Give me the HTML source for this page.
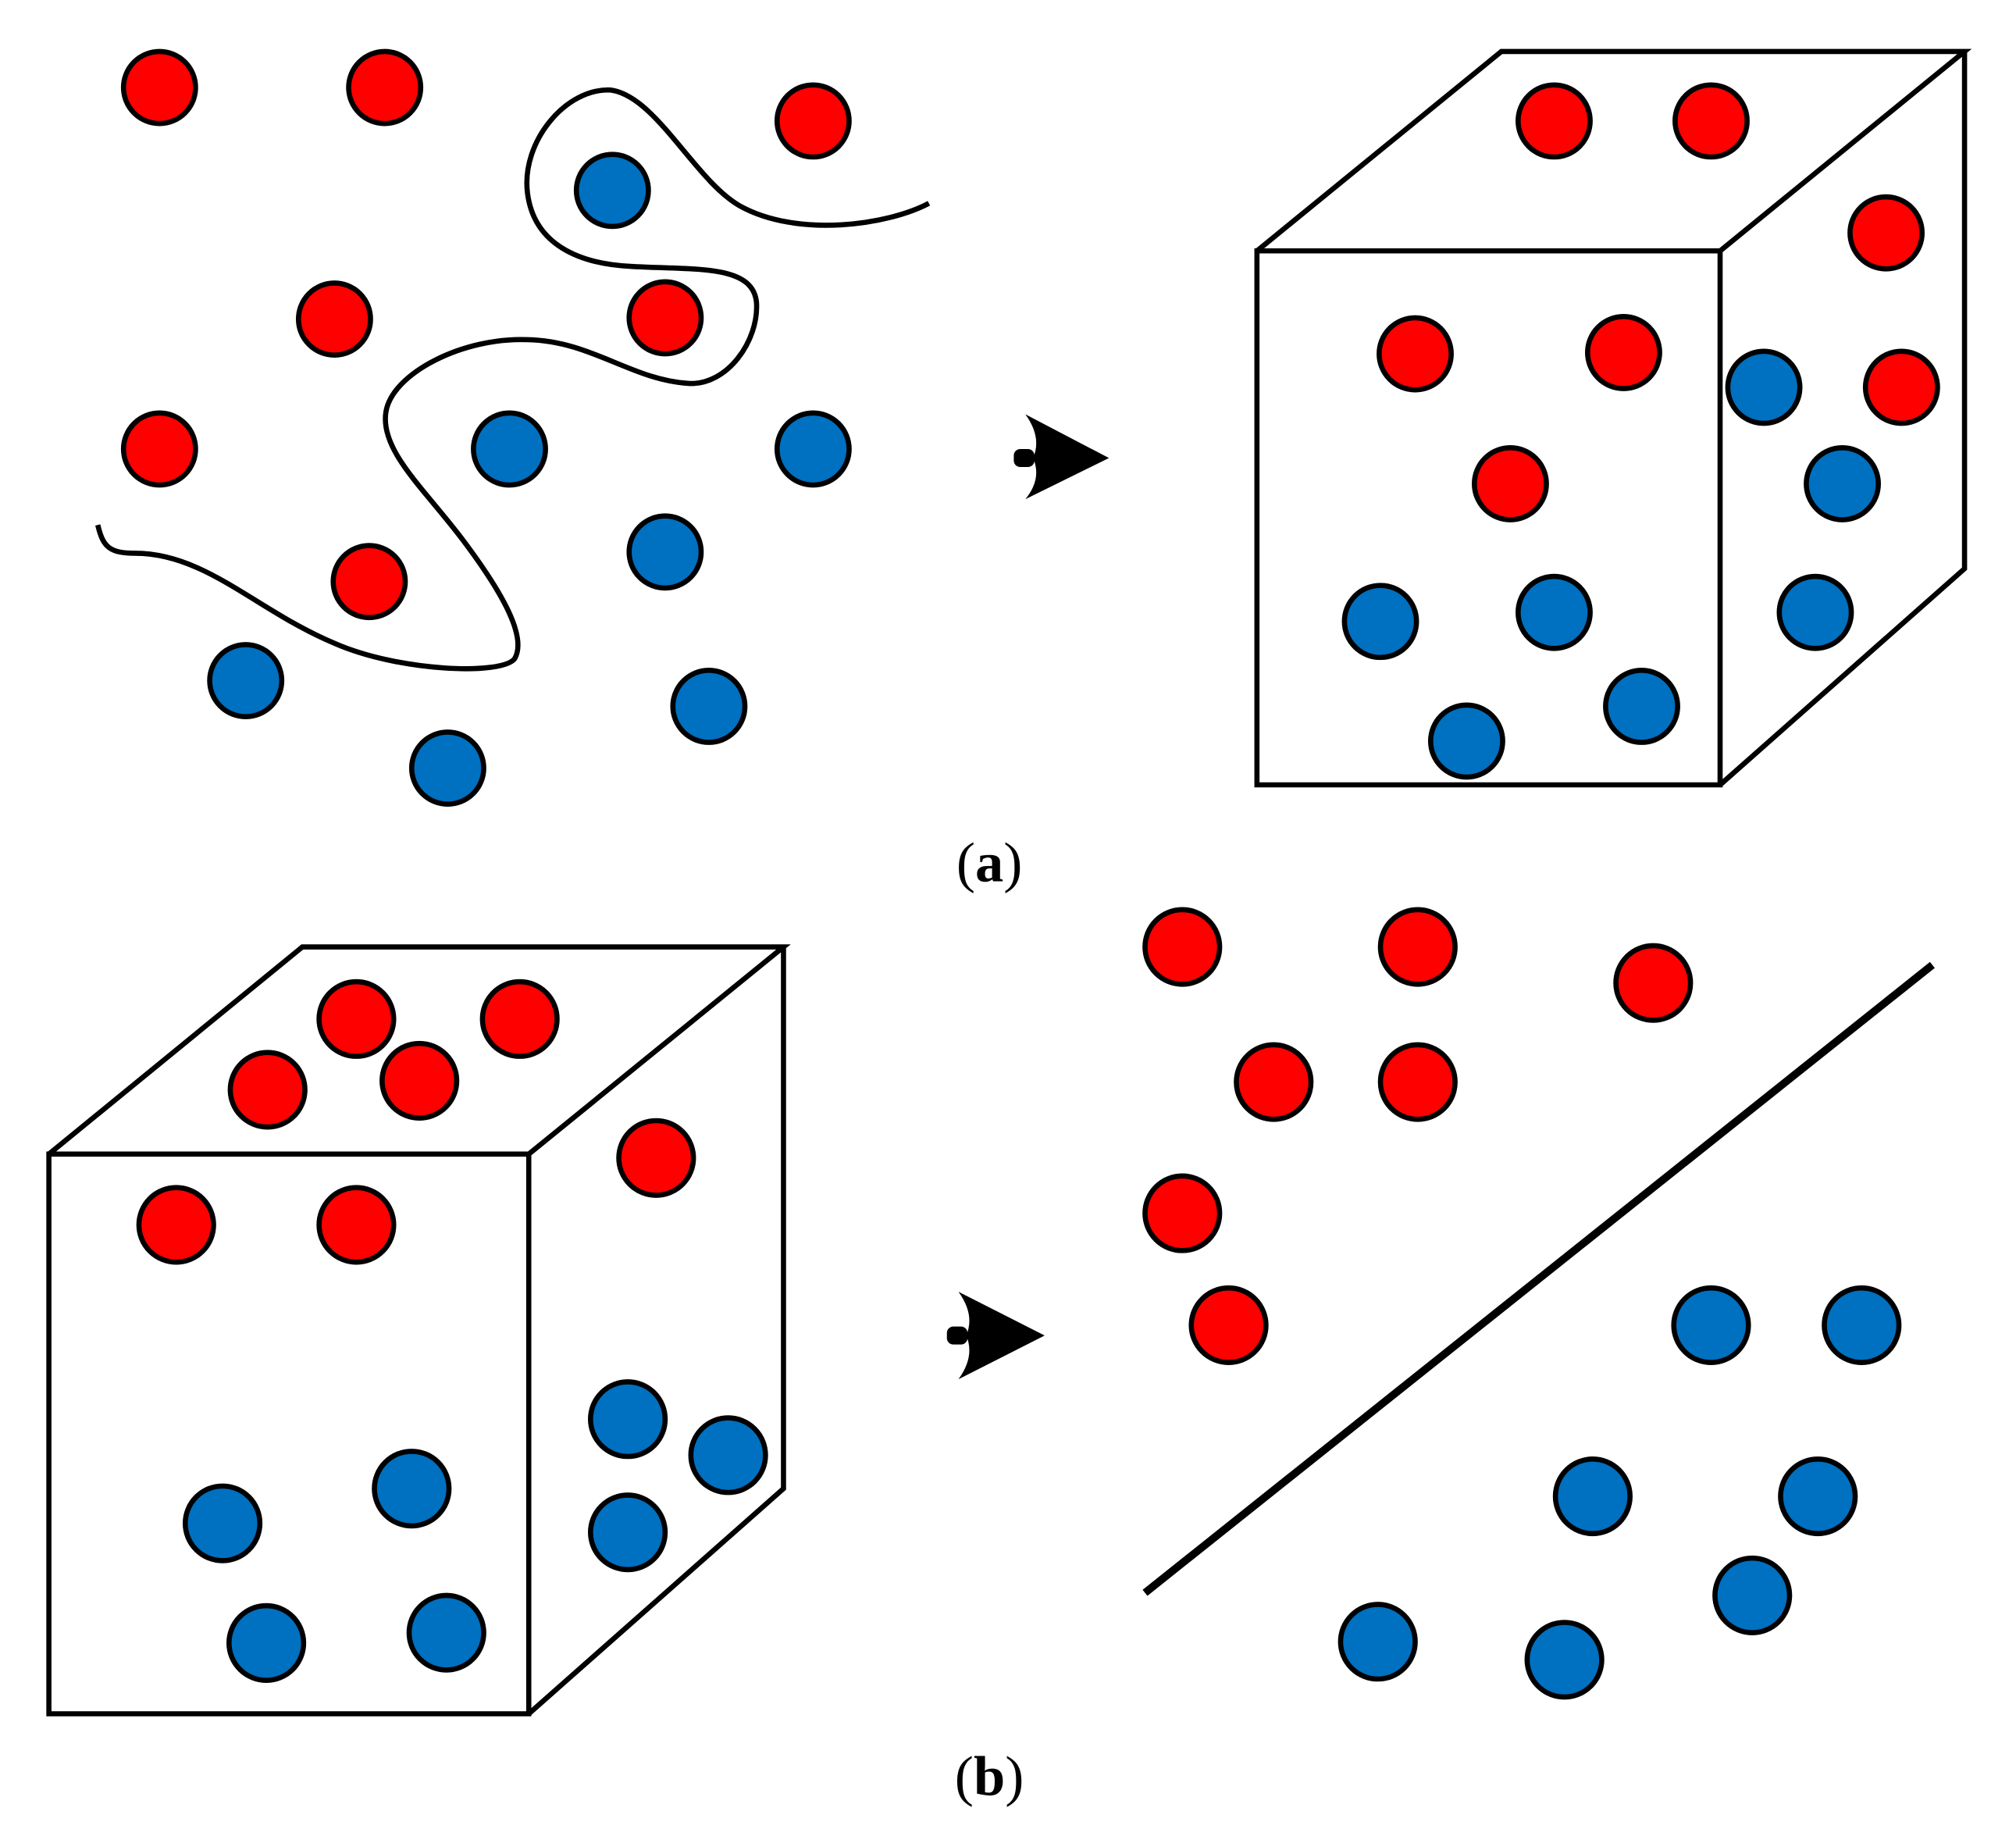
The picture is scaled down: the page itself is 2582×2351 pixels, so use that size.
<!DOCTYPE html>
<html><head><meta charset="utf-8"><style>html,body{margin:0;padding:0;background:#fff}svg{display:block}</style></head><body>
<svg width="2582" height="2351" viewBox="0 0 1567 1427" preserveAspectRatio="none" xmlns="http://www.w3.org/2000/svg">
<rect width="1567" height="1427" fill="#fff"/>
<g fill="none" stroke="#000" stroke-width="4" stroke-linejoin="miter">
<path d="M722,158 C690,175 620,185 575,160 C540,140 510,75 475,70 C440,68 405,110 410,150 C415,190 450,205 490,207 C540,210 585,205 588,235 C590,265 565,300 535,298 C490,295 460,265 410,264 C360,262 305,290 300,320 C295,350 330,380 360,420 C390,460 410,495 400,512 C390,525 310,522 260,500 C200,475 160,430 105,430 C85,430 80,425 76,408"/>
<path d="M977,195 H1337 V610 H977 Z M977,195 L1167,40 H1527 L1337,195 M1527,40 V442 L1337,610"/>
<path d="M38,897 H411 V1332 H38 Z M38,897 L235,736 H609 L411,897 M609,736 V1157 L411,1332"/>
<path d="M890,1238 L1502,750" stroke-width="6"/>
</g>
<g fill="#000">
<path d="M862,356 L797,322 Q810,340 803,356 Q810,372 797,388 Z"/><rect x="788" y="349" width="16" height="14" rx="5"/>
<path d="M812,1038 L745,1004 Q758,1022 751,1038 Q758,1054 745,1072 Z"/><rect x="736" y="1031" width="16" height="14" rx="5"/>
</g>
<g stroke="#000" stroke-width="4" fill="#ff0000">
<circle cx="124" cy="68" r="28"/><circle cx="299" cy="68" r="28"/><circle cx="632" cy="94" r="28"/><circle cx="260" cy="248" r="28"/><circle cx="517" cy="247" r="28"/><circle cx="124" cy="349" r="28"/><circle cx="287" cy="452" r="28"/>
<circle cx="1208" cy="94" r="28"/><circle cx="1330" cy="94" r="28"/><circle cx="1466" cy="181" r="28"/><circle cx="1478" cy="301" r="28"/><circle cx="1100" cy="275" r="28"/><circle cx="1262" cy="274" r="28"/><circle cx="1174" cy="376" r="28"/>
<circle cx="277" cy="792" r="29"/><circle cx="404" cy="792" r="29"/><circle cx="208" cy="847" r="29"/><circle cx="326" cy="840" r="29"/><circle cx="510" cy="900" r="29"/><circle cx="137" cy="952" r="29"/><circle cx="277" cy="952" r="29"/>
<circle cx="919" cy="736" r="29"/><circle cx="1102" cy="736" r="29"/><circle cx="1285" cy="764" r="29"/><circle cx="990" cy="841" r="29"/><circle cx="1102" cy="841" r="29"/><circle cx="919" cy="943" r="29"/><circle cx="955" cy="1030" r="29"/>
</g>
<g stroke="#000" stroke-width="4" fill="#0070c0">
<circle cx="476" cy="148" r="28"/><circle cx="396" cy="349" r="28"/><circle cx="632" cy="349" r="28"/><circle cx="517" cy="429" r="28"/><circle cx="191" cy="529" r="28"/><circle cx="551" cy="549" r="28"/><circle cx="348" cy="597" r="28"/>
<circle cx="1371" cy="301" r="28"/><circle cx="1432" cy="376" r="28"/><circle cx="1411" cy="476" r="28"/><circle cx="1073" cy="483" r="28"/><circle cx="1208" cy="476" r="28"/><circle cx="1276" cy="549" r="28"/><circle cx="1140" cy="576" r="28"/>
<circle cx="488" cy="1103" r="29"/><circle cx="566" cy="1131" r="29"/><circle cx="488" cy="1191" r="29"/><circle cx="320" cy="1157" r="29"/><circle cx="173" cy="1184" r="29"/><circle cx="207" cy="1277" r="29"/><circle cx="347" cy="1269" r="29"/>
<circle cx="1330" cy="1030" r="29"/><circle cx="1447" cy="1030" r="29"/><circle cx="1238" cy="1163" r="29"/><circle cx="1413" cy="1163" r="29"/><circle cx="1362" cy="1240" r="29"/><circle cx="1071" cy="1276" r="29"/><circle cx="1216" cy="1290" r="29"/>
</g>
<g font-family="Liberation Serif, serif" font-size="44" text-anchor="middle">
<text x="769" y="685">(<tspan font-weight="bold">a</tspan>)</text>
<text x="769" y="1395">(<tspan font-weight="bold">b</tspan>)</text>
</g>
</svg>
</body></html>
